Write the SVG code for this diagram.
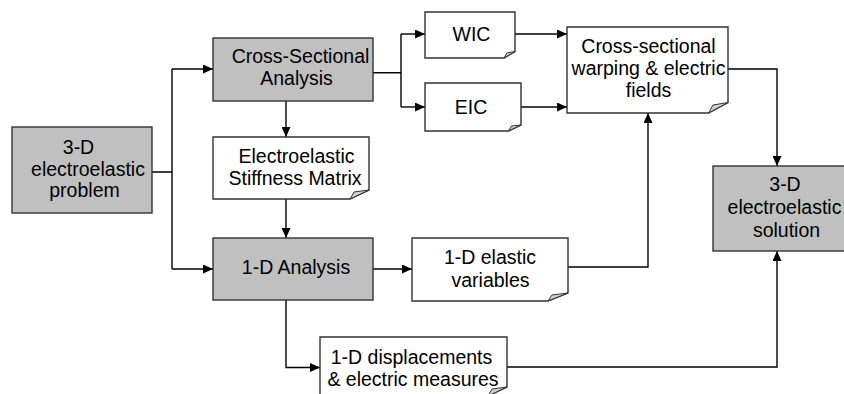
<svg xmlns="http://www.w3.org/2000/svg" width="844" height="394" viewBox="0 0 844 394">
<defs>
<marker id="ah" markerUnits="userSpaceOnUse" markerWidth="11" markerHeight="9" refX="10" refY="4.5" orient="auto">
<path d="M0,0 L10,4.5 L0,9 z" fill="#000"/>
</marker>
<style>
.g{fill:#c0c0c0;stroke:#333;stroke-width:1.4}
.w{fill:#fff;stroke:#333;stroke-width:1.4}
.f{fill:#d0d0d0;stroke:#333;stroke-width:1}
.c{fill:none;stroke:#000;stroke-width:1.4}
.a{fill:none;stroke:#000;stroke-width:1.4;marker-end:url(#ah)}
text{font-family:"Liberation Sans",Arial,sans-serif;font-size:19.5px;fill:#000;text-anchor:middle}
</style>
</defs>
<rect width="844" height="394" fill="#fff"/>
<g id="connectors">
<path class="c" d="M152,172 H172 M172,69 V269"/>
<path class="a" d="M172,69 H213"/>
<path class="a" d="M172,269 H213"/>
<path class="a" d="M286,101 V137"/>
<path class="a" d="M286,199 V238"/>
<path class="c" d="M373,72.7 H401 M401,34 V107"/>
<path class="a" d="M401,34 H425"/>
<path class="a" d="M401,107 H425"/>
<path class="a" d="M515,34 H567"/>
<path class="a" d="M521,107 H567"/>
<path class="a" d="M373,269 H412"/>
<path class="a" d="M568,267 H648 V113"/>
<path class="a" d="M728,69 H777 V166"/>
<path class="a" d="M286,300 V367.5 H320"/>
<path class="a" d="M507,367 H777 V251"/>
</g>
<g id="problem">
<rect class="g" x="12" y="127" width="140" height="86"/>
<text x="78.5" y="154">3-D</text>
<text x="88" y="175.5">electroelastic</text>
<text x="84.5" y="197">problem</text>
</g>
<g id="cross-sectional-analysis">
<rect class="g" x="213" y="38" width="160" height="63"/>
<text x="300.5" y="63">Cross-Sectional</text>
<text x="296.5" y="85">Analysis</text>
</g>
<g id="stiffness">
<path class="w" d="M213,137 H369 V190 L350,199 H213 Z"/>
<path class="f" d="M369,190 L350,199 L354,192 Z"/>
<text x="296.5" y="162.5">Electroelastic</text>
<text x="295" y="185">Stiffness Matrix</text>
</g>
<g id="one-d-analysis">
<rect class="g" x="213" y="238" width="160" height="62"/>
<text x="296" y="273.5">1-D Analysis</text>
</g>
<g id="wic">
<path class="w" d="M425,12 H515 V51.5 L504,58 H425 Z"/>
<path class="f" d="M515,51.5 L504,58 L507,53 Z"/>
<text x="471.5" y="41">WIC</text>
</g>
<g id="eic">
<path class="w" d="M425,83 H521 V125 L508.5,131 H425 Z"/>
<path class="f" d="M521,125 L508.5,131 L511.5,126 Z"/>
<text x="471" y="113.5">EIC</text>
</g>
<g id="warping">
<path class="w" d="M567,27 H728 V102.5 L708.5,113 H567 Z"/>
<path class="f" d="M728,102.5 L708.5,113 L713,105 Z"/>
<text x="648.5" y="52.5">Cross-sectional</text>
<text x="648.5" y="74.5">warping &amp; electric</text>
<text x="648.5" y="96.5">fields</text>
</g>
<g id="elastic-variables">
<path class="w" d="M412,238 H568 V293 L548,301 H412 Z"/>
<path class="f" d="M568,293 L548,301 L552,295 Z"/>
<text x="490" y="264">1-D elastic</text>
<text x="490.5" y="286.5">variables</text>
</g>
<g id="displacements">
<path class="w" d="M320,337 H507 V387 L488,396 H320 Z"/>
<path class="f" d="M507,387 L488,396 L492,389 Z"/>
<text x="411.5" y="363.5">1-D displacements</text>
<text x="413" y="386">&amp; electric measures</text>
</g>
<g id="solution">
<rect class="g" x="713" y="166" width="140" height="85"/>
<text x="785" y="190.5">3-D</text>
<text x="784.5" y="213.5">electroelastic</text>
<text x="786.5" y="236.5">solution</text>
</g>
</svg>
